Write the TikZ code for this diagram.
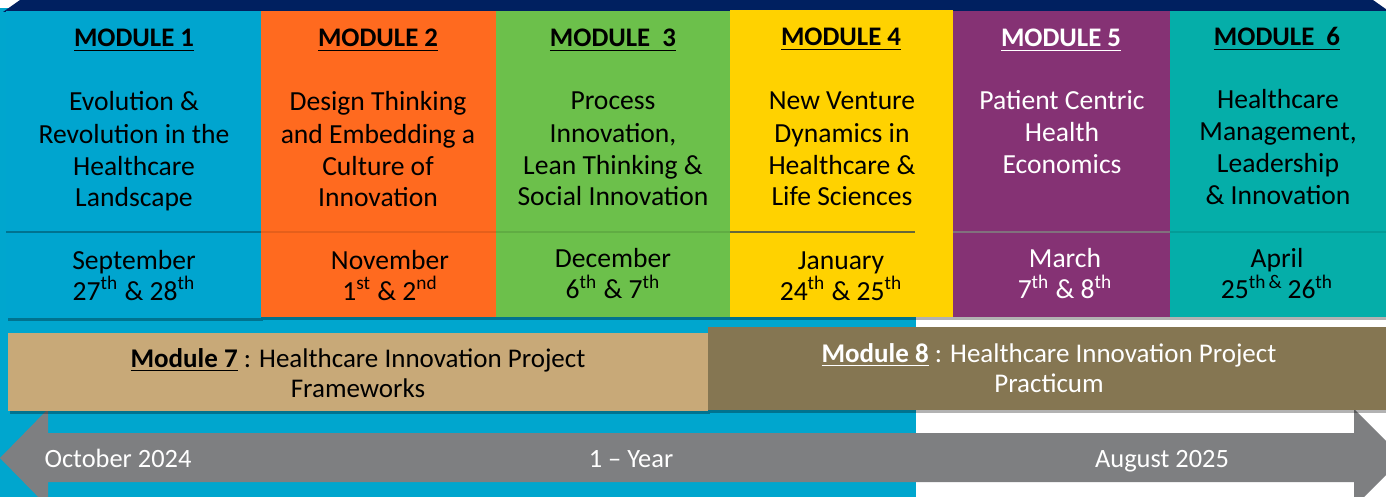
\documentclass[tikz,border=0pt]{standalone}
\usepackage{fontspec}
\setmainfont{Carlito}
\usetikzlibrary{shadows}

\definecolor{bgblue}{HTML}{00A6CE}
\definecolor{topnavy}{HTML}{002060}
\definecolor{arrowgray}{HTML}{7E7F81}
\definecolor{modblue}{HTML}{00A5CF}
\definecolor{modorange}{HTML}{FF6A1F}
\definecolor{modgreen}{HTML}{6CC04B}
\definecolor{modyellow}{HTML}{FFD200}
\definecolor{modpurple}{HTML}{853274}
\definecolor{modteal}{HTML}{05AEA9}
\definecolor{modtan}{HTML}{C8A978}
\definecolor{modbrown}{HTML}{857652}

\tikzset{
    modshadow/.style={drop shadow={shadow xshift=1pt,shadow yshift=-1.5pt,fill=black,opacity=0.3}},
    divider/.style={black,opacity=0.3,line width=0.6pt},
    modtitle/.style={anchor=base,inner sep=0pt,font=\fontsize{13.4}{16}\selectfont\bfseries},
    modbody/.style={anchor=base,inner sep=0pt,align=center,font=\fontsize{13.8}{16}\selectfont},
    moddate/.style={anchor=base,inner sep=0pt,align=center,font=\fontsize{13.8}{15.5}\selectfont},
    barlabel/.style={anchor=base,inner sep=0pt,align=center,font=\fontsize{13.5}{15}\selectfont},
    timelabel/.style={anchor=base,inner sep=0pt,text=white,font=\fontsize{13.2}{15}\selectfont}
}

\begin{document}
\begin{tikzpicture}[x=0.5pt,y=-0.5pt]
    \useasboundingbox (0,0) rectangle (1386,497);
    \begin{scope}
    \clip (0,0) rectangle (1386,497);

    % Background
    \fill[white] (0,0) rectangle (1386,497);
    \fill[bgblue] (0,8) rectangle (916,497);
    \fill[topnavy] (20,0) -- (1373,0) -- (1390,12) -- (3,12) -- cycle;

    % Time line
    \fill[arrowgray] (0,458) -- (48,409) -- (48,433) -- (1354,433) -- (1354,409)
        -- (1403,458) -- (1354,507) -- (1354,482) -- (48,482) -- (48,507) -- cycle;
    \node[timelabel] (start) at (118,467) {October 2024};
    \node[timelabel] (span) at (631,467) {1 -- Year};
    \node[timelabel] (finish) at (1162,467) {August 2025};

    % Module 7 (base = last line)
    \fill[modtan,modshadow] (8,333) rectangle (708,411);
    \node[barlabel] (m7) at (358,397) {\textbf{\underline{Module 7}} : Healthcare Innovation Project\\Frameworks};

    % Module 8
    \fill[modbrown,modshadow] (708,327) rectangle (1386,410);
    \node[barlabel,text=white] (m8) at (1049,392) {\textbf{\underline{Module 8}} : Healthcare Innovation Project\\Practicum};

    % Module 1
    \begin{scope}
        \fill[modblue,modshadow] (6,11) rectangle (261,318);
        \draw[divider] (6,232) -- (261,232);
        \node[modtitle] (t1) at (134,47) {\underline{MODULE 1}};
        \node[modbody] (b1) at (134,207) {Evolution \&\\Revolution in the\\Healthcare\\Landscape};
        \node[moddate] (d1) at (134,300) {September\\27\textsuperscript{th} \& 28\textsuperscript{th}};
    \end{scope}

    % Module 2
    \begin{scope}
        \fill[modorange,modshadow] (261,11) rectangle (496,317);
        \draw[divider,opacity=0.1] (261,232) -- (496,232);
        \node[modtitle] (t2) at (378,47) {\underline{MODULE 2}};
        \node[modbody] (b2) at (378,207) {Design Thinking\\and Embedding a\\Culture of\\Innovation};
        \node[moddate] (d2) at (390,300) {November\\1\textsuperscript{st} \& 2\textsuperscript{nd}};
    \end{scope}

    % Module 3
    \begin{scope}
        \fill[modgreen,modshadow] (496,11) rectangle (730,317);
        \draw[divider,opacity=0.1] (496,232) -- (730,232);
        \node[modtitle] (t3) at (613,47) {\underline{MODULE\ \ 3}};
        \node[modbody] (b3) at (613,206) {Process\\Innovation,\\Lean Thinking \&\\Social Innovation};
        \node[moddate] (d3) at (613,299) {December\\6\textsuperscript{th} \& 7\textsuperscript{th}};
    \end{scope}

    % Module 4
    \begin{scope}
        \fill[modyellow,modshadow] (730,10) rectangle (953,317);
        \draw[divider,topnavy,opacity=0.6] (730,232) -- (915,232);
        \node[modtitle] (t4) at (841,46) {\underline{MODULE 4}};
        \node[modbody] (b4) at (842,206) {New Venture\\Dynamics in\\Healthcare \&\\Life Sciences};
        \node[moddate] (d4) at (841,300) {January\\24\textsuperscript{th} \& 25\textsuperscript{th}};
    \end{scope}

    % Module 5
    \begin{scope}
        \fill[modpurple,modshadow] (953,11) rectangle (1170,317);
        \draw[divider,gray,opacity=0.8] (953,232) -- (1170,232);
        \node[modtitle,text=white] (t5) at (1061,47) {\underline{MODULE 5}};
        \node[modbody,text=white] (b5) at (1062,174) {Patient Centric\\Health\\Economics};
        \node[moddate,text=white] (d5) at (1065,299) {March\\7\textsuperscript{th} \& 8\textsuperscript{th}};
    \end{scope}

    % Module 6
    \begin{scope}
        \fill[modteal,modshadow] (1170,11) rectangle (1386,317);
        \draw[divider,opacity=0.1] (1170,232) -- (1386,232);
        \node[modtitle] (t6) at (1277,46) {\underline{MODULE\ \ 6}};
        \node[modbody] (b6) at (1278,205) {Healthcare\\Management,\\Leadership\\\& Innovation};
        \node[moddate] (d6) at (1277,299) {April\\25\textsuperscript{th\,\&}\,26\textsuperscript{th}};
    \end{scope}
    \end{scope}
\end{tikzpicture}
\end{document}
